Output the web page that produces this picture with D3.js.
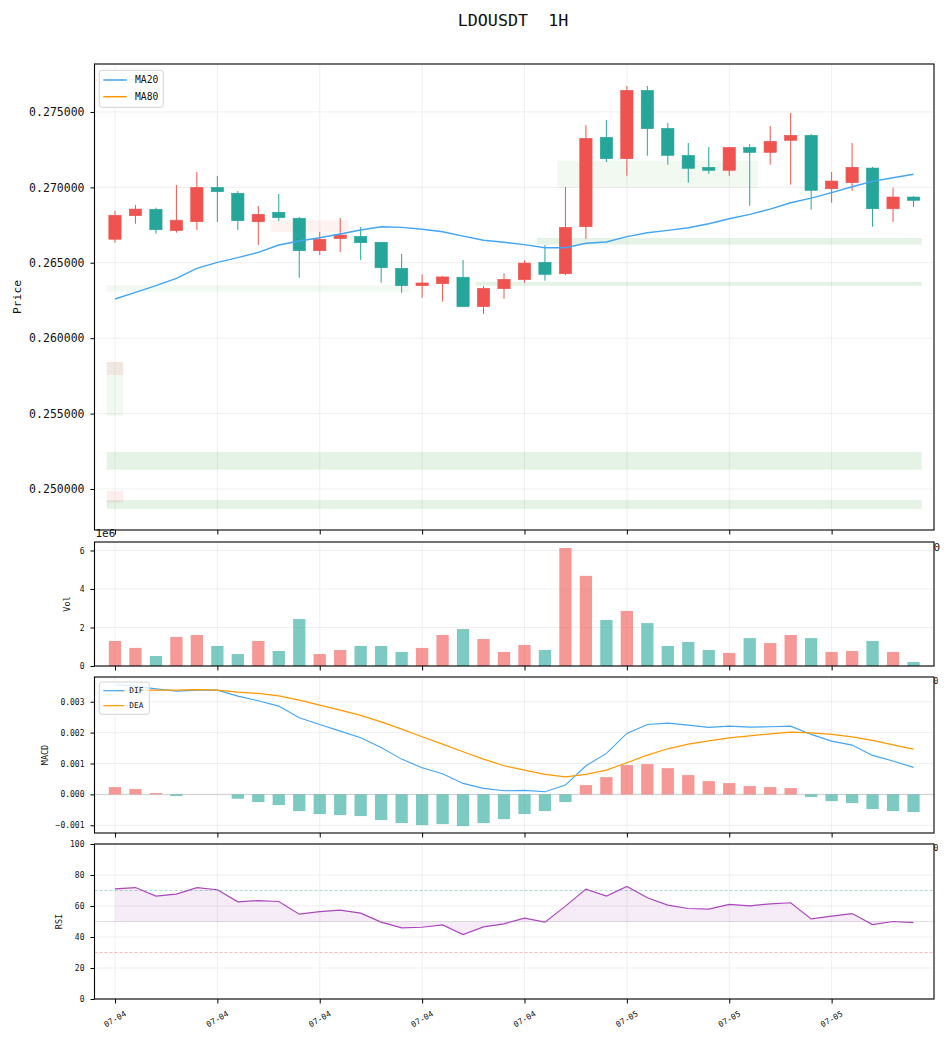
<!DOCTYPE html>
<html>
<head>
<meta charset="utf-8">
<script src="https://cdn.jsdelivr.net/npm/d3@7"></script>
<style>
  body { margin: 0; background: #fff; }
  svg text { font-family: "DejaVu Sans Mono", monospace; fill: #111; }
</style>
</head>
<body>
<div id="chart"></div>
<script>
// ---- data (40 hourly candles) ----
var opens  = [0.26656,0.26812,0.26854,0.26713,0.26772,0.27000,0.26961,0.26772,0.26835,0.26795,
              0.26580,0.26660,0.26675,0.26636,0.26463,0.26348,0.26361,0.26404,0.26209,0.26328,
              0.26388,0.26503,0.26427,0.26739,0.27332,0.27190,0.27643,0.27391,0.27212,0.27133,
              0.27113,0.27265,0.27232,0.27312,0.27345,0.26991,0.27031,0.27128,0.26858,0.26936];
var highs  = [0.26843,0.26883,0.26865,0.27016,0.27102,0.27075,0.26976,0.26876,0.26956,0.26803,
              0.26704,0.26797,0.26737,0.26638,0.26558,0.26423,0.26412,0.26518,0.26346,0.26430,
              0.26516,0.26618,0.27002,0.27413,0.27447,0.27672,0.27672,0.27427,0.27294,0.27267,
              0.27265,0.27287,0.27407,0.27493,0.27354,0.27102,0.27294,0.27135,0.26998,0.26941];
var lows   = [0.26633,0.26759,0.26693,0.26699,0.26717,0.26770,0.26717,0.26618,0.26777,0.26401,
              0.26551,0.26571,0.26518,0.26368,0.26301,0.26268,0.26242,0.26209,0.26160,0.26262,
              0.26368,0.26381,0.26419,0.26658,0.27168,0.27077,0.27210,0.27150,0.27031,0.27090,
              0.27077,0.26878,0.27150,0.27018,0.26852,0.26898,0.26978,0.26739,0.26770,0.26870];
var closes = [0.26815,0.26856,0.26719,0.26782,0.27000,0.26971,0.26779,0.26821,0.26799,0.26580,
              0.26656,0.26684,0.26633,0.26467,0.26348,0.26366,0.26406,0.26209,0.26331,0.26390,
              0.26498,0.26423,0.26735,0.27325,0.27190,0.27643,0.27389,0.27212,0.27126,0.27113,
              0.27265,0.27232,0.27305,0.27345,0.26980,0.27042,0.27133,0.26858,0.26936,0.26914];
var volumes = [1.30,0.94,0.52,1.51,1.61,1.04,0.62,1.30,0.78,2.44,
               0.62,0.83,1.04,1.04,0.73,0.94,1.61,1.92,1.40,0.73,
               1.09,0.83,6.13,4.68,2.39,2.86,2.23,1.04,1.25,0.83,
               0.68,1.45,1.19,1.61,1.45,0.73,0.78,1.30,0.73,0.21].map(function(v) { return v * 1e6; });
var ma20 = [0.26260,0.26304,0.26348,0.26397,0.26463,0.26503,0.26534,0.26569,0.26618,0.26644,
            0.26666,0.26691,0.26717,0.26739,0.26735,0.26722,0.26706,0.26677,0.26649,0.26636,
            0.26620,0.26600,0.26600,0.26629,0.26638,0.26673,0.26699,0.26715,0.26732,0.26759,
            0.26792,0.26821,0.26856,0.26898,0.26929,0.26965,0.27004,0.27040,0.27064,0.27087];
var dif = [0.003547,0.003505,0.003417,0.003343,0.003375,0.003375,0.003181,0.003029,0.002857,0.002479,
           0.002265,0.002048,0.001832,0.001521,0.001142,0.000861,0.000667,0.000356,0.000194,0.000117,
           0.000129,0.000084,0.000301,0.000926,0.001327,0.001974,0.002265,0.002307,0.002243,0.002168,
           0.002210,0.002178,0.002188,0.002210,0.001942,0.001725,0.001595,0.001262,0.001078,0.000874];
var dea = [0.003340,0.003370,0.003375,0.003375,0.003390,0.003375,0.003310,0.003268,0.003191,0.003052,
           0.002890,0.002728,0.002557,0.002349,0.002113,0.001864,0.001628,0.001379,0.001142,0.000926,
           0.000786,0.000647,0.000570,0.000647,0.000786,0.001023,0.001272,0.001476,0.001628,0.001735,
           0.001832,0.001896,0.001961,0.002016,0.001993,0.001942,0.001864,0.001747,0.001605,0.001466];
var macdHist = [0.000236,0.000172,0.000040,-0.000055,0,0,-0.000142,-0.000249,-0.000346,-0.000540,
                -0.000637,-0.000670,-0.000702,-0.000832,-0.000929,-0.000994,-0.000961,-0.001026,-0.000929,-0.000799,
                -0.000637,-0.000540,-0.000249,0.000301,0.000560,0.000948,0.000980,0.000850,0.000625,0.000430,
                0.000366,0.000269,0.000236,0.000204,-0.000087,-0.000217,-0.000282,-0.000476,-0.000540,-0.000573];
var rsi = [71.1,71.9,66.4,67.7,71.8,70.5,62.7,63.5,62.9,54.7,
           56.4,57.3,55.4,49.6,45.9,46.3,47.8,41.6,46.5,48.5,
           52.2,49.6,59.9,70.9,66.4,72.6,65.3,60.6,58.4,58.0,
           61.0,60.1,61.4,62.1,51.7,53.5,55.1,48.0,50.0,49.3];

// x ticks (candle index) and their labels
var tickIdx    = [0, 5, 10, 15, 20, 25, 30, 35];
var tickLabels = ["07-04","07-04","07-04","07-04","07-04","07-05","07-05","07-05"];

// support / resistance zones: candle span and price band
var zoneStart = [0, 0, 0, 0, 0, 0, 8, 18, 21, 22];
var zoneEnd   = [39, 39, 0, 0, 0, 14, 11, 39, 39, 31];
var zoneLow   = [0.24869,0.25128,0.25486,0.25756,0.24909,0.26308,0.26704,0.26348,0.26620,0.26998];
var zoneHigh  = [0.24927,0.25245,0.25842,0.25842,0.24987,0.26351,0.26782,0.26374,0.26664,0.27177];
var zoneKind  = ["bull","bull","bullLight","bear","bear","bullLight","bearLight","bull","bull","bullLight"];

// ---- layout ----
var UP = "#ef5350", DOWN = "#26a69a";
var zoneFill = {
  bull: "rgba(76,175,80,0.15)", bullLight: "rgba(76,175,80,0.08)",
  bear: "rgba(239,83,80,0.10)", bearLight: "rgba(239,83,80,0.08)"
};
var left = 94.5, right = 934;
var panels = { price: [64, 530], vol: [542, 666], macd: [677, 833], rsi: [844, 999] };
var idx = d3.range(opens.length);

var svg = d3.select("#chart").append("svg")
    .attr("width", 950)
    .attr("height", 1040);

var x = d3.scaleLinear().domain([-1, 40]).range([left, right]);
var barW = x(0.3) - x(-0.3);

function isUp(i) { return closes[i] >= opens[i]; }

// grid, y axis, bottom ticks for one panel
function drawFrame(p, yScale, ticks, fmt, fontSize) {
  var g = svg.append("g");
  g.selectAll(null).data(tickIdx).enter().append("line")
      .attr("x1", function(d) { return x(d); }).attr("x2", function(d) { return x(d); })
      .attr("y1", p[0]).attr("y2", p[1])
      .attr("stroke", "#ebebeb").attr("stroke-width", 0.8);
  g.selectAll(null).data(ticks).enter().append("line")
      .attr("x1", left).attr("x2", right)
      .attr("y1", function(d) { return yScale(d); }).attr("y2", function(d) { return yScale(d); })
      .attr("stroke", "#ebebeb").attr("stroke-width", 0.8);

  var ya = g.append("g")
      .attr("transform", `translate(${left},0)`)
      .call(d3.axisLeft(yScale).tickValues(ticks).tickFormat(fmt).tickSize(4).tickPadding(6));
  ya.select(".domain").remove();
  ya.selectAll("text").style("font-size", fontSize + "px").attr("fill", "#111");
  ya.selectAll("line").attr("stroke", "#000");

  var xa = g.append("g")
      .attr("transform", `translate(0,${p[1]})`)
      .call(d3.axisBottom(x).tickValues(tickIdx).tickFormat("").tickSize(4.5));
  xa.select(".domain").remove();
  xa.selectAll("line").attr("stroke", "#000");
  return g;
}

function drawBorder(p) {
  svg.append("rect")
      .attr("x", left).attr("y", p[0])
      .attr("width", right - left).attr("height", p[1] - p[0])
      .attr("fill", "none").attr("stroke", "#000").attr("stroke-width", 1.1);
}

// ---- price panel ----
var yP = d3.scaleLinear().domain([0.24728, 0.27818]).range([panels.price[1], panels.price[0]]);
drawFrame(panels.price, yP, [0.25, 0.255, 0.26, 0.265, 0.27, 0.275], d3.format(".6f"), 11.5);

svg.append("g").selectAll("rect").data(d3.range(zoneStart.length)).enter().append("rect")
    .attr("x", function(k) { return x(zoneStart[k] - 0.4); })
    .attr("width", function(k) { return x(zoneEnd[k] + 0.4) - x(zoneStart[k] - 0.4); })
    .attr("y", function(k) { return yP(zoneHigh[k]); })
    .attr("height", function(k) { return yP(zoneLow[k]) - yP(zoneHigh[k]); })
    .attr("fill", function(k) { return zoneFill[zoneKind[k]]; });

var candles = svg.append("g").selectAll("g").data(idx).enter().append("g");
candles.append("line")
    .attr("x1", function(i) { return x(i); }).attr("x2", function(i) { return x(i); })
    .attr("y1", function(i) { return yP(highs[i]); })
    .attr("y2", function(i) { return yP(lows[i]); })
    .attr("stroke", function(i) { return isUp(i) ? UP : DOWN; })
    .attr("stroke-width", 1);
candles.append("rect")
    .attr("x", function(i) { return x(i) - barW / 2; })
    .attr("width", barW)
    .attr("y", function(i) { return yP(Math.max(opens[i], closes[i])); })
    .attr("height", function(i) { return Math.max(1, Math.abs(yP(opens[i]) - yP(closes[i]))); })
    .attr("fill", function(i) { return isUp(i) ? UP : DOWN; })
    .attr("stroke", function(i) { return isUp(i) ? UP : DOWN; })
    .attr("stroke-width", 0.6);

var maLine = d3.line()
    .x(function(d, i) { return x(i); })
    .y(function(d) { return yP(d); });
svg.append("path")
    .datum(ma20)
    .attr("fill", "none")
    .attr("stroke", "#42a5f5")
    .attr("stroke-width", 1.4)
    .attr("d", maLine);

drawBorder(panels.price);

// legend
var lg = svg.append("g");
lg.append("rect").attr("x", 99.3).attr("y", 70.3).attr("width", 64).attr("height", 37)
    .attr("rx", 2.5).attr("fill", "#fff").attr("fill-opacity", 0.8).attr("stroke", "#d3d3d3");
[["MA20", "#42a5f5", 80], ["MA80", "#ff9800", 96.7]].forEach(function(e) {
  lg.append("line").attr("x1", 103.3).attr("x2", 126.7).attr("y1", e[2]).attr("y2", e[2])
      .attr("stroke", e[1]).attr("stroke-width", 1.5);
  lg.append("text").attr("x", 135).attr("y", e[2]).attr("dy", "0.35em")
      .style("font-size", "9.7px").text(e[0]);
});

// ---- volume panel ----
var yV = d3.scaleLinear().domain([0, 6.44e6]).range([panels.vol[1], panels.vol[0]]);
drawFrame(panels.vol, yV, [0, 2e6, 4e6, 6e6], function(d) { return d / 1e6; }, 8);
svg.append("g").selectAll("rect").data(idx).enter().append("rect")
    .attr("x", function(i) { return x(i) - barW / 2; })
    .attr("width", barW)
    .attr("y", function(i) { return yV(volumes[i]); })
    .attr("height", function(i) { return yV(0) - yV(volumes[i]); })
    .attr("fill", function(i) { return isUp(i) ? UP : DOWN; })
    .attr("fill-opacity", 0.6);
drawBorder(panels.vol);

// ---- MACD panel ----
var yM = d3.scaleLinear().domain([-0.00125, 0.0038]).range([panels.macd[1], panels.macd[0]]);
drawFrame(panels.macd, yM, [-0.001, 0, 0.001, 0.002, 0.003], d3.format(".3f"), 8);
svg.append("line").attr("x1", left).attr("x2", right).attr("y1", yM(0)).attr("y2", yM(0))
    .attr("stroke", "#999").attr("stroke-opacity", 0.3).attr("stroke-width", 1.5);
svg.append("g").selectAll("rect").data(idx).enter().append("rect")
    .attr("x", function(i) { return x(i) - barW / 2; })
    .attr("width", barW)
    .attr("y", function(i) { return yM(Math.max(0, macdHist[i])); })
    .attr("height", function(i) { return Math.abs(yM(macdHist[i]) - yM(0)); })
    .attr("fill", function(i) { return macdHist[i] >= 0 ? UP : DOWN; })
    .attr("fill-opacity", 0.6);
var mLine = d3.line()
    .x(function(d, i) { return x(i); })
    .y(function(d) { return yM(d); });
svg.append("path").datum(dif).attr("fill", "none").attr("stroke", "#42a5f5")
    .attr("stroke-width", 1.1).attr("d", mLine);
svg.append("path").datum(dea).attr("fill", "none").attr("stroke", "#ff9800")
    .attr("stroke-width", 1.2).attr("d", mLine);
drawBorder(panels.macd);

var lm = svg.append("g");
lm.append("rect").attr("x", 99.3).attr("y", 682).attr("width", 50).attr("height", 32.3)
    .attr("rx", 2.5).attr("fill", "#fff").attr("fill-opacity", 0.8).attr("stroke", "#d3d3d3");
[["DIF", "#42a5f5", 690.7], ["DEA", "#ff9800", 705.7]].forEach(function(e) {
  lm.append("line").attr("x1", 103.3).attr("x2", 124.3).attr("y1", e[2]).attr("y2", e[2])
      .attr("stroke", e[1]).attr("stroke-width", 1.2);
  lm.append("text").attr("x", 129.3).attr("y", e[2]).attr("dy", "0.35em")
      .style("font-size", "7.8px").text(e[0]);
});

// ---- RSI panel ----
var yR = d3.scaleLinear().domain([0, 100]).range([panels.rsi[1], panels.rsi[0]]);
drawFrame(panels.rsi, yR, [0, 20, 40, 60, 80, 100], d3.format("d"), 8);
svg.append("line").attr("x1", left).attr("x2", right).attr("y1", yR(50)).attr("y2", yR(50))
    .attr("stroke", "#999").attr("stroke-opacity", 0.3).attr("stroke-width", 1.2);
[[70, DOWN], [30, UP]].forEach(function(e) {
  svg.append("line").attr("x1", left).attr("x2", right).attr("y1", yR(e[0])).attr("y2", yR(e[0]))
      .attr("stroke", e[1]).attr("stroke-opacity", 0.5).attr("stroke-width", 0.8)
      .attr("stroke-dasharray", "3,2");
});
var rsiArea = d3.area()
    .x(function(d, i) { return x(i); })
    .y0(yR(50))
    .y1(function(d) { return yR(d); });
svg.append("path").datum(rsi).attr("fill", "#ab47bc").attr("fill-opacity", 0.1).attr("d", rsiArea);
svg.append("path").datum(rsi).attr("fill", "none").attr("stroke", "#ab47bc")
    .attr("stroke-width", 1.2)
    .attr("d", d3.line().x(function(d, i) { return x(i); }).y(function(d) { return yR(d); }));
drawBorder(panels.rsi);

// x tick labels under RSI
svg.append("g").selectAll("text").data(tickIdx).enter().append("text")
    .attr("transform", function(d) { return `translate(${x(d)},1019) rotate(-30)`; })
    .attr("text-anchor", "middle")
    .attr("dy", "0.35em")
    .style("font-size", "8px")
    .text(function(d, k) { return tickLabels[k]; });

// ---- titles / axis labels ----
svg.append("text").attr("x", 513).attr("y", 26).attr("text-anchor", "middle")
    .style("font-size", "16.7px").style("white-space", "pre").text("LDOUSDT  1H");

function yLabel(txt, xPos, p, size) {
  svg.append("text")
      .attr("transform", `translate(${xPos},${(p[0] + p[1]) / 2}) rotate(-90)`)
      .attr("text-anchor", "middle")
      .style("font-size", size + "px")
      .text(txt);
}
yLabel("Price", 21, panels.price, 11.3);
yLabel("Vol", 70, panels.vol, 8.5);
yLabel("MACD", 48, panels.macd, 8.5);
yLabel("RSI", 62, panels.rsi, 8.5);

// offset text of the volume axis and clipped labels at the right edge
svg.append("text").attr("x", 95.5).attr("y", 537).style("font-size", "11px").text("1e6");
svg.append("text").attr("x", 933.5).attr("y", 551).style("font-size", "11px").text("0");
svg.append("text").attr("x", 933.5).attr("y", 683.5).style("font-size", "8px").text("0");
svg.append("text").attr("x", 933.5).attr("y", 850.5).style("font-size", "8px").text("0");
</script>
</body>
</html>
